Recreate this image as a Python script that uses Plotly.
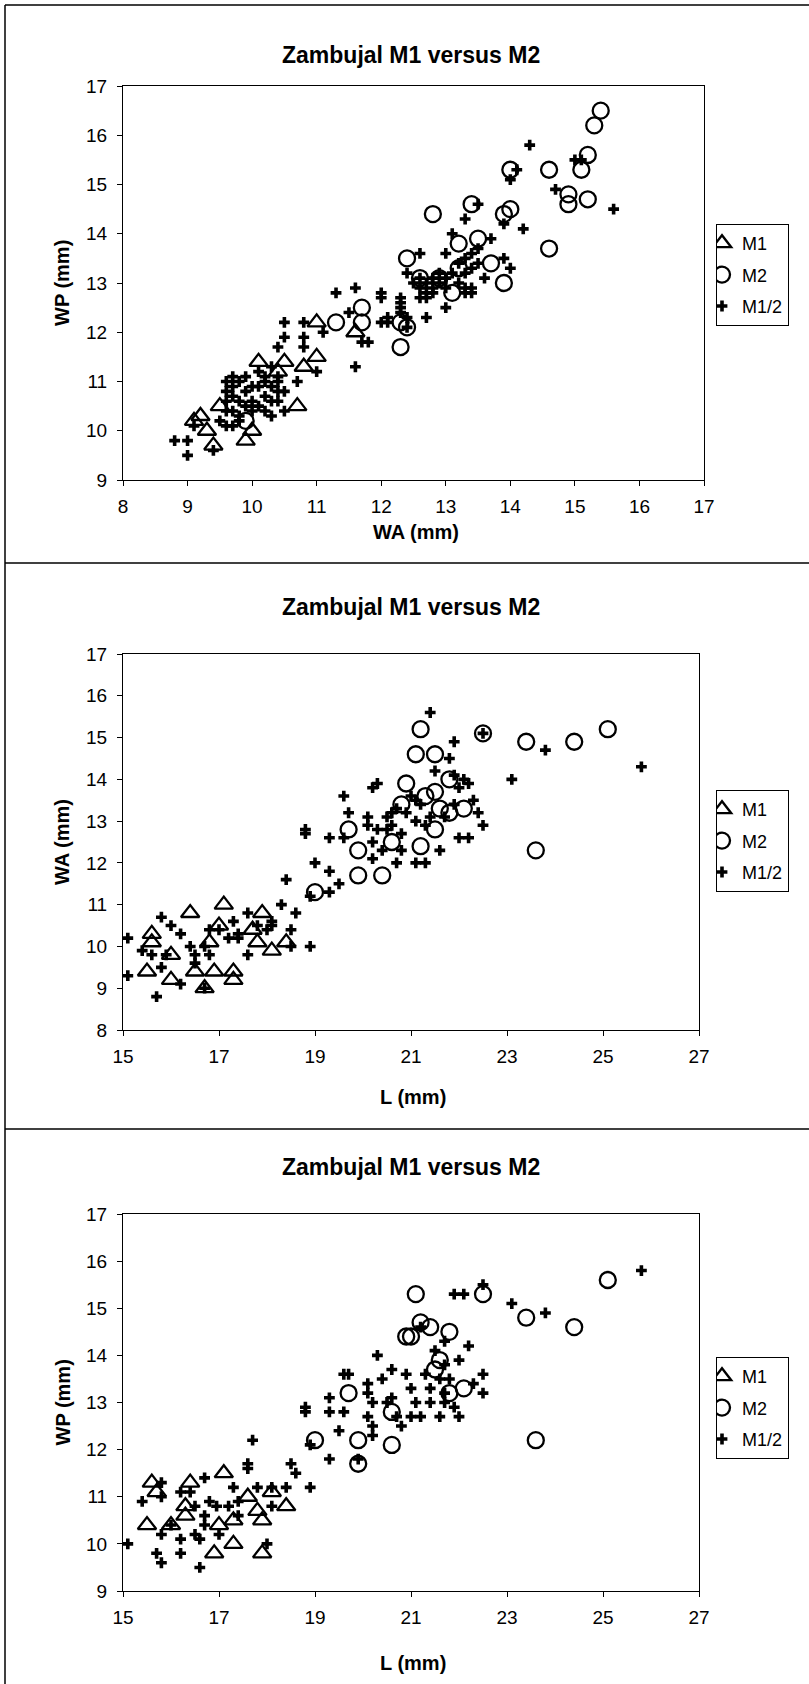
import plotly.graph_objects as go

# ---- data: panel 1, WA (x) vs WP (y) ----
p1_m1_wa = [9.2, 9.1, 9.3, 9.4, 9.9, 10.0, 9.5, 10.7, 11.0, 10.8, 10.5, 10.1, 11.0, 11.6, 10.4]
p1_m1_wp = [10.3, 10.2, 10.0, 9.7, 9.8, 10.0, 10.5, 10.5, 11.5, 11.3, 11.4, 11.4, 12.2, 12.0, 11.2]

p1_m2_wa = [15.4, 15.3, 15.2, 15.1, 14.6, 14.0, 14.9, 14.9, 15.2, 14.6, 14.0, 13.9, 13.4, 12.8, 13.5,
            13.2, 13.7, 13.9, 13.1, 12.4, 12.6, 12.9, 12.4, 12.3, 12.3, 11.3, 11.7, 11.7, 9.9, 13.2]
p1_m2_wp = [16.5, 16.2, 15.6, 15.3, 15.3, 15.3, 14.8, 14.6, 14.7, 13.7, 14.5, 14.4, 14.6, 14.4, 13.9,
            13.8, 13.4, 13.0, 12.8, 13.5, 13.1, 13.1, 12.1, 12.2, 11.7, 12.2, 12.5, 12.2, 10.2, 13.3]

p1_m12_wa = [8.8, 9.0, 9.0, 9.4, 9.1, 9.6, 9.6, 9.7, 9.7, 9.6, 9.6, 9.7, 9.7, 9.8, 9.8, 9.9, 9.9, 10.0,
             10.0, 10.1, 10.2, 10.2, 10.2, 10.3, 10.3, 10.3, 10.4, 10.4, 10.5, 10.5, 10.4, 10.5, 10.5,
             10.4, 10.8, 10.8, 10.8, 10.7, 11.0, 11.1, 11.3, 11.6, 11.6, 11.5, 11.8, 11.7, 12.0, 12.0,
             12.0, 12.1, 12.3, 12.3, 12.1, 12.4, 14.3, 15.6, 14.7, 15.0, 15.1, 14.1, 14.0, 13.3, 13.5,
             13.9, 14.2, 13.1, 13.7, 13.9, 14.0, 13.6, 13.0, 13.0, 12.7, 12.6, 12.4, 12.3, 12.3, 12.4,
             12.5, 12.6, 12.6, 12.7, 12.7, 12.8, 12.8, 12.9, 12.9, 13.0, 13.0, 13.1, 13.2, 13.2, 13.3,
             13.3, 13.4, 13.4, 13.5, 13.5, 13.3, 13.4, 13.3, 13.4, 12.7, 12.6, 12.8,
             9.5, 9.8, 9.9, 10.0, 10.1, 10.1, 10.2, 10.3, 9.7, 9.8, 9.6, 10.4]
p1_m12_wp = [9.8, 9.8, 9.5, 9.6, 10.1, 10.8, 11.0, 11.1, 10.7, 10.4, 10.1, 10.4, 10.1, 10.6, 11.0, 11.1,
             10.8, 10.4, 10.6, 10.9, 11.1, 10.7, 11.0, 10.3, 10.6, 11.3, 11.0, 10.8, 10.4, 10.8, 11.1,
             12.2, 11.9, 11.7, 12.2, 11.9, 11.7, 11.0, 11.2, 12.0, 12.8, 12.9, 11.3, 12.4, 11.8, 11.8,
             12.8, 12.7, 12.2, 12.3, 12.6, 12.4, 12.2, 12.1, 15.8, 14.5, 14.9, 15.5, 15.5, 15.3, 15.1,
             14.3, 14.6, 14.2, 14.1, 14.0, 13.9, 13.5, 13.3, 13.1, 13.6, 12.5, 12.3, 13.6, 13.2, 12.7,
             12.5, 12.3, 13.0, 12.9, 13.1, 13.0, 12.8, 13.1, 12.9, 13.0, 13.2, 13.1, 12.9, 13.2, 13.0,
             13.4, 13.5, 13.2, 13.6, 13.3, 13.7, 13.4, 12.9, 12.9, 12.8, 12.8, 12.7, 12.7, 12.8,
             10.2, 10.2, 10.5, 10.9, 10.5, 11.2, 10.4, 10.9, 10.9, 10.3, 10.6, 10.6]

# ---- data: panel 2, L (x) vs WA (y) ----
p2_m1_l = [15.5, 15.6, 15.6, 16.4, 17.1, 16.0, 16.0, 16.5, 16.7, 16.9, 17.3, 17.3, 17.0, 16.8, 17.9,
           17.8, 18.1, 18.4, 17.7]
p2_m1_wa = [9.4, 10.3, 10.1, 10.8, 11.0, 9.2, 9.8, 9.4, 9.0, 9.4, 9.4, 9.2, 10.5, 10.1, 10.8,
            10.1, 9.9, 10.1, 10.4]

p2_m2_l = [25.1, 24.4, 23.4, 23.6, 22.5, 21.2, 21.1, 21.5, 21.8, 20.9, 21.3, 21.5, 21.6, 22.1, 21.5,
           21.2, 20.8, 20.6, 20.4, 19.9, 19.9, 19.7, 19.0, 21.8]
p2_m2_wa = [15.2, 14.9, 14.9, 12.3, 15.1, 15.2, 14.6, 14.6, 14.0, 13.9, 13.6, 13.7, 13.3, 13.3, 12.8,
            12.4, 13.4, 12.5, 11.7, 11.7, 12.3, 12.8, 11.3, 13.2]

p2_m12_l = [25.8, 23.8, 23.1, 22.5, 21.4, 21.9, 21.8, 21.5, 21.9, 22.1, 22.2, 20.2, 20.3, 19.6, 19.7,
            18.8, 18.8, 19.3, 19.6, 19.0, 19.3, 19.5, 19.3, 18.9, 18.4, 18.3, 18.6, 18.9, 18.5, 18.5,
            18.1, 17.6, 17.3, 17.0, 16.8, 16.2, 16.0, 15.8, 15.1, 15.1, 15.7, 16.2, 15.4, 15.6, 15.9,
            15.8, 16.4, 16.5, 16.7, 16.8, 16.5, 16.7, 17.2, 17.4, 17.4, 17.6, 18.0, 18.1, 17.8,
            20.1, 20.1, 20.2, 20.2, 20.3, 20.5, 20.6, 20.6, 20.7, 20.8, 20.7, 20.9, 21.1, 21.2, 21.4,
            21.3, 21.1, 21.3, 21.1, 21.6, 21.7, 21.9, 22.0, 22.3, 22.4, 22.5, 22.0, 22.2, 21.0, 20.8,
            20.5, 20.4]
p2_m12_wa = [14.3, 14.7, 14.0, 15.1, 15.6, 14.9, 14.5, 14.2, 14.1, 14.0, 13.9, 13.8, 13.9, 13.6, 13.2,
             12.8, 12.7, 12.6, 12.6, 12.0, 11.8, 11.5, 11.3, 11.2, 11.6, 11.0, 10.8, 10.0, 10.4, 10.0,
             10.6, 10.8, 10.6, 10.4, 10.4, 10.3, 10.5, 10.7, 10.2, 9.3, 8.8, 9.1, 9.9, 9.8, 9.8,
             9.5, 10.0, 9.8, 10.0, 9.8, 9.6, 9.0, 10.2, 10.2, 10.3, 9.8, 10.4, 10.5, 10.5,
             13.1, 12.9, 12.5, 12.1, 12.8, 13.1, 13.2, 12.9, 13.3, 12.3, 12.0, 13.2, 13.0, 13.4, 13.1,
             12.9, 12.0, 12.0, 13.5, 12.3, 13.1, 13.4, 13.8, 13.5, 13.2, 12.9, 12.6, 12.6, 13.6, 12.7,
             12.8, 12.3]

# ---- data: panel 3, L (x) vs WP (y) ----
p3_m1_l = [15.5, 15.6, 15.7, 16.4, 16.3, 16.3, 17.1, 16.9, 17.3, 17.9, 18.4, 17.9, 17.8, 17.6, 17.0,
           17.3, 16.0, 18.1]
p3_m1_wp = [10.4, 11.3, 11.1, 11.3, 10.8, 10.6, 11.5, 9.8, 10.0, 9.8, 10.8, 10.5, 10.7, 11.0, 10.4,
            10.5, 10.4, 11.1]

p3_m2_l = [25.1, 24.4, 23.4, 23.6, 22.5, 21.1, 21.2, 21.4, 21.8, 20.9, 21.0, 21.5, 21.6, 21.8, 22.1,
           19.7, 20.6, 19.9, 19.9, 19.0, 20.6]
p3_m2_wp = [15.6, 14.6, 14.8, 12.2, 15.3, 15.3, 14.7, 14.6, 14.5, 14.4, 14.4, 13.7, 13.9, 13.2, 13.3,
            13.2, 12.1, 12.2, 11.7, 12.2, 12.8]

p3_m12_l = [25.8, 23.8, 23.1, 22.5, 21.9, 22.1, 21.2, 21.7, 22.2, 21.5, 21.7, 22.0, 20.3, 22.5, 22.5,
            22.3, 19.6, 19.7, 18.8, 18.8, 19.3, 19.3, 19.6, 19.5, 19.3, 18.9, 18.9, 19.9, 17.7, 17.6,
            17.6, 18.5, 18.6, 18.4, 17.8, 18.1, 18.1, 18.0, 17.4, 17.3, 16.7, 16.2, 16.4, 15.4, 15.8,
            15.8, 15.1, 15.7, 15.8, 16.6, 16.2, 16.0, 15.8, 16.2, 16.5, 16.7, 16.7, 16.8, 16.6, 17.0,
            17.2, 16.95, 16.5, 17.4,
            20.1, 20.1, 20.2, 20.1, 20.2, 20.2, 20.4, 20.6, 20.6, 20.7, 20.8, 20.9, 21.0, 21.1, 21.0,
            21.2, 21.3, 21.4, 21.4, 21.6, 21.6, 21.7, 21.8, 21.9, 22.0, 21.7, 20.5]
p3_m12_wp = [15.8, 14.9, 15.1, 15.5, 15.3, 15.3, 14.6, 14.3, 14.2, 14.1, 13.8, 13.9, 14.0, 13.6, 13.2,
             13.4, 13.6, 13.6, 12.8, 12.9, 13.1, 12.8, 12.8, 12.4, 11.8, 11.2, 12.1, 11.8, 12.2, 11.7,
             11.6, 11.7, 11.5, 11.2, 11.2, 11.2, 10.8, 10.0, 10.9, 11.2, 11.4, 11.1, 11.1, 10.9, 11.0,
             11.3, 10.0, 9.8, 9.6, 9.5, 9.8, 10.4, 10.2, 10.1, 10.2, 10.4, 10.6, 10.9, 10.1, 10.2,
             10.8, 10.8, 10.8, 10.6,
             13.4, 13.2, 13.0, 12.7, 12.5, 12.3, 13.5, 13.7, 13.1, 12.7, 12.5, 13.6, 13.3, 13.0, 12.7,
             12.7, 13.6, 13.3, 13.0, 12.7, 13.5, 13.0, 13.5, 12.9, 12.7, 13.2, 13.0]

series_names = ["M1", "M2", "M1/2"]

W, H = 809, 1684
FONT = "Liberation Sans, Arial, sans-serif"


def px(x):
    return x / W


def py(y):
    return 1 - y / H


fig = go.Figure()

panels = [
    dict(top=86, bottom=480, left=123, right=704, xr=[8, 17], xt=1, yr=[9, 17],
         xtitle="WA (mm)", ytitle="WP (mm)", title_y=55, xtitle_y=532, leg_top=224,
         data=[(p1_m1_wa, p1_m1_wp), (p1_m2_wa, p1_m2_wp), (p1_m12_wa, p1_m12_wp)]),
    dict(top=654, bottom=1030, left=123, right=699, xr=[15, 27], xt=2, yr=[8, 17],
         xtitle="L (mm)", ytitle="WA (mm)", title_y=607, xtitle_y=1097, leg_top=790,
         data=[(p2_m1_l, p2_m1_wa), (p2_m2_l, p2_m2_wa), (p2_m12_l, p2_m12_wa)]),
    dict(top=1214, bottom=1591, left=123, right=699, xr=[15, 27], xt=2, yr=[9, 17],
         xtitle="L (mm)", ytitle="WP (mm)", title_y=1167, xtitle_y=1663, leg_top=1357,
         data=[(p3_m1_l, p3_m1_wp), (p3_m2_l, p3_m2_wp), (p3_m12_l, p3_m12_wp)]),
]

markers = [
    dict(symbol="triangle-up-open", size=16, color="black", line=dict(width=2.3, color="black")),
    dict(symbol="circle-open", size=16, color="black", line=dict(width=2.3, color="black")),
    dict(symbol="cross", size=9, color="black", line=dict(width=0)),
]

annotations = []
layout_axes = {}
for i, p in enumerate(panels, start=1):
    sfx = "" if i == 1 else str(i)
    leg = "legend" if i == 1 else f"legend{i}"
    for j, (xs, ys) in enumerate(p["data"]):
        fig.add_trace(go.Scatter(x=xs, y=ys, mode="markers", name=series_names[j],
                                 marker=markers[j], xaxis="x" + sfx, yaxis="y" + sfx,
                                 legend=leg, legendgroup=f"g{i}{j}"))
    axis_common = dict(showgrid=False, zeroline=False, showline=True, linecolor="black",
                       linewidth=1, mirror=True, ticks="outside", ticklen=5, tickcolor="black",
                       automargin=False,
                       tickfont=dict(family=FONT, size=19, color="black"))
    layout_axes["xaxis" + sfx] = dict(axis_common, range=p["xr"], dtick=p["xt"], tick0=p["xr"][0],
                                      domain=[px(p["left"]), px(p["right"])],
                                      anchor="y" + sfx, ticklabelstandoff=4)
    layout_axes["yaxis" + sfx] = dict(axis_common, range=p["yr"], dtick=1,
                                      domain=[py(p["bottom"]), py(p["top"])],
                                      anchor="x" + sfx, ticklabelstandoff=6)
    layout_axes[leg] = dict(x=px(716), y=py(p["leg_top"]), xanchor="left", yanchor="top",
                            bgcolor="white", bordercolor="black", borderwidth=1,
                            font=dict(family=FONT, size=18, color="black"),
                            tracegroupgap=5, indentation=-15, itemwidth=30)
    cx = (p["left"] + p["right"]) / 2
    annotations.append(dict(text="<b>Zambujal M1 versus M2</b>", x=px(411), y=py(p["title_y"]),
                            xref="paper", yref="paper", showarrow=False,
                            xanchor="center", yanchor="middle",
                            font=dict(family=FONT, size=23, color="black")))
    annotations.append(dict(text="<b>" + p["xtitle"] + "</b>", x=px(cx + 2), y=py(p["xtitle_y"]),
                            xref="paper", yref="paper", showarrow=False,
                            xanchor="center", yanchor="middle",
                            font=dict(family=FONT, size=20, color="black")))
    annotations.append(dict(text="<b>" + p["ytitle"] + "</b>", x=px(62),
                            y=py((p["top"] + p["bottom"]) / 2), xref="paper", yref="paper",
                            showarrow=False, textangle=-90, xanchor="center", yanchor="middle",
                            font=dict(family=FONT, size=20, color="black")))

# frame lines around the three stacked charts
shapes = []
for yline in [5, 563, 1129]:
    shapes.append(dict(type="line", xref="paper", yref="paper", x0=px(5), x1=1,
                       y0=py(yline), y1=py(yline), line=dict(color="black", width=1.5)))
shapes.append(dict(type="line", xref="paper", yref="paper", x0=px(5), x1=px(5),
                   y0=py(5), y1=0, line=dict(color="black", width=1.5)))

fig.update_layout(
    width=W, height=H, margin=dict(l=0, r=0, t=0, b=0, autoexpand=False),
    paper_bgcolor="white", plot_bgcolor="white",
    showlegend=True, annotations=annotations, shapes=shapes,
    font=dict(family=FONT, color="black"),
    **layout_axes,
)

# the page body has a default 8px margin; drop it so the figure sits at the window corner
fig.write_html("out.html", config={"displayModeBar": False},
               post_script="document.body.style.margin='0px';")
